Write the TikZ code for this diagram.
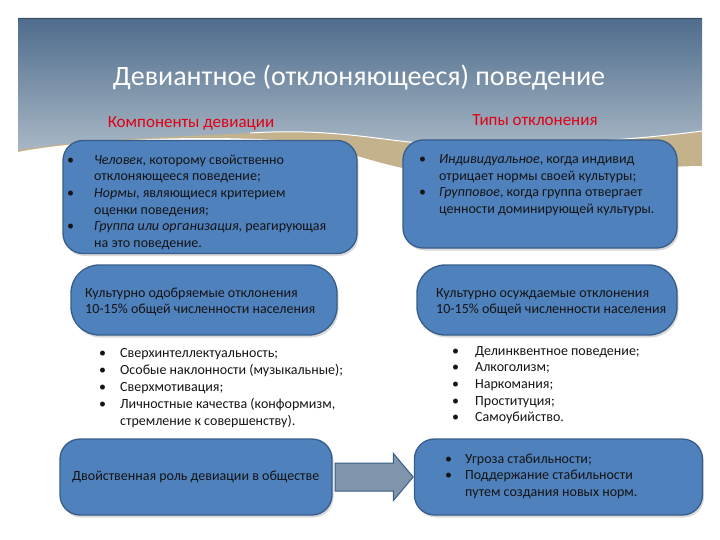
\documentclass[tikz,border=0pt]{standalone}
\usepackage{fontspec}
\setmainfont{Carlito}
\usepackage{tikz}
\usetikzlibrary{shapes.arrows, shadows, positioning}
\definecolor{headtop}{RGB}{78, 108, 140}
\definecolor{headbot}{RGB}{168, 183, 197}
\definecolor{sand}{RGB}{196, 178, 140}
\definecolor{boxblue}{RGB}{79, 129, 189}
\definecolor{boxline}{RGB}{56, 93, 138}
\definecolor{arrowgray}{RGB}{128, 148, 172}
\definecolor{labelred}{RGB}{226, 0, 20}
\definecolor{textdark}{RGB}{20, 20, 20}
\newcommand{\bitem}[2][18pt]{\makebox[#1][l]{\rule{0pt}{12pt}\textbullet}#2}
\newcommand{\bcont}[2][18pt]{\hspace*{#1}#2}
\newcommand{\lead}{\rule{0pt}{12pt}}

\begin{document}
\begin{tikzpicture}[
    x=1pt, y=-1pt,
    panel/.style={draw=boxline, line width=1.3pt, fill=boxblue, rounded corners=20pt, inner sep=0pt,
      drop shadow={shadow xshift=1.5pt, shadow yshift=-2.5pt, opacity=0.3}},
    body/.style={anchor=north west, align=left, inner sep=0pt, text=textdark, font=\fontsize{14}{16.6}\selectfont},
    heading/.style={anchor=base, inner sep=0pt, text=labelred, font=\fontsize{17}{20}\selectfont},
    blockarrow/.style={single arrow, draw=boxline, line width=1pt, fill=arrowgray, inner xsep=0pt, inner ysep=13.5pt,
      minimum height=78pt, single arrow head extend=9.5pt, single arrow tip angle=100}
]
\useasboundingbox (0,0) rectangle (720,540);

% Slide header
\fill[sand] (18,120) rectangle (702,180);
\path[top color=headtop, bottom color=headbot] (18,18) -- (702,18) -- (702,131)
  .. controls (620,142) and (500,148) .. (420,143)
  .. controls (380,140) and (330,128) .. (250,133)
  .. controls (150,138) and (80,140) .. (18,150) -- cycle;
\fill[white] (18,152) .. controls (80,140) and (200,134) .. (290,141)
  .. controls (340,146) and (380,168) .. (430,172) -- (640,168)
  .. controls (670,167) and (690,166) .. (702,166) -- (702,200) -- (18,200) -- cycle;
\draw[white, line width=1pt] (702,131) .. controls (620,142) and (500,148) .. (420,143)
  .. controls (380,140) and (330,128) .. (250,133);
\draw[headtop!70!black, line width=0.6pt] (18,18) -- (702,18);

\node[anchor=base, inner sep=0pt, text=white, font=\fontsize{28}{32}\selectfont] (title) at (359,86)
  {Девиантное (отклоняющееся) поведение};
\node[heading] (complabel) at (191,128) {Компоненты девиации};
\node[heading] (typelabel) at (535,126) {Типы отклонения};

% Boxes
\node[panel, minimum width=294pt, minimum height=113pt] (compbox) at (210,197) {};
\node[panel, minimum width=274pt, minimum height=108pt] (typebox) at (540,194) {};
\node[panel, minimum width=266pt, minimum height=70pt, rounded corners=28pt] (approvedbox) at (204,300) {};
\node[panel, minimum width=260pt, minimum height=70pt, rounded corners=28pt] (condemnedbox) at (547,300) {};
\node[panel, minimum width=272pt, minimum height=76pt] (rolebox) at (196,477) {};
\node[blockarrow, right=2pt of rolebox] (roleflow) {};
\node[panel, minimum width=288pt, minimum height=76pt, right=0pt of roleflow] (effectbox) {};

% Texts
\node[body] (comptext) at (67,152) {%
  \bitem[27pt]{\textit{Человек}, которому свойственно}\\
  \bcont[27pt]{отклоняющееся поведение;}\\
  \bitem[27pt]{\textit{Нормы}, являющиеся критерием}\\
  \bcont[27pt]{оценки поведения;}\\
  \bitem[27pt]{\textit{Группа или организация}, реагирующая}\\
  \bcont[27pt]{на это поведение.}};
\node[body] (typetext) at (419,151.5) {%
  \bitem[20pt]{\textit{Индивидуальное}, когда индивид}\\
  \bcont[20pt]{отрицает нормы своей культуры;}\\
  \bitem[20pt]{\textit{Групповое}, когда группа отвергает}\\
  \bcont[20pt]{ценности доминирующей культуры.}};
\node[body] (approvedtext) at (85,285) {\lead Культурно одобряемые отклонения\\10-15\% общей численности населения};
\node[body] (condemnedtext) at (436,285) {\lead Культурно осуждаемые отклонения\\10-15\% общей численности населения};
\node[body, font=\fontsize{14}{17}\selectfont] (approvedlist) at (99,345) {%
  \bitem[21pt]{Сверхинтеллектуальность;}\\
  \bitem[21pt]{Особые наклонности (музыкальные);}\\
  \bitem[21pt]{Сверхмотивация;}\\
  \bitem[21pt]{Личностные качества (конформизм,}\\
  \bcont[21pt]{стремление к совершенству).}};
\node[body] (condemnedlist) at (452,343) {%
  \bitem[23pt]{Делинквентное поведение;}\\
  \bitem[23pt]{Алкоголизм;}\\
  \bitem[23pt]{Наркомания;}\\
  \bitem[23pt]{Проституция;}\\
  \bitem[23pt]{Самоубийство.}};
\node[body] (roletext) at (72,468) {\lead Двойственная роль девиации в обществе};
\node[body] (effecttext) at (445,451) {%
  \bitem[20pt]{Угроза стабильности;}\\
  \bitem[20pt]{Поддержание стабильности}\\
  \bcont[20pt]{путем создания новых норм.}};

\end{tikzpicture}
\end{document}
